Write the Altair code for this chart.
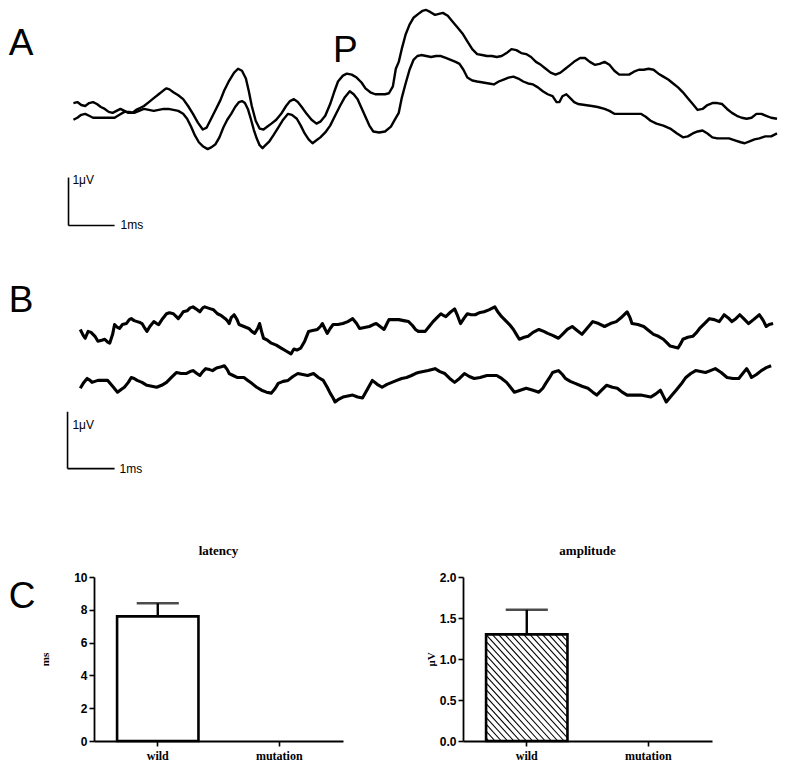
import altair as alt
import pandas as pd

A_UPPER_X = [68,72,76,80,84,88,92,96,100,104,108,112,116,120,124,128,132,136,140,145,150,155,160,163,166,170,175,180,185,190,195,200,204,208,213,218,222,227,232,236,240,244,247,250,254,258,262,266,270,275,280,285,289,293,297,301,306,311,316,320,325,330,334,338,343,347,352,357,362,366,371,376,381,386,390,394,397,400,403,407,411,415,420,424,428,432,437,441,445,450,455,460,465,470,475,480,485,490,495,500,505,510,515,520,525,530,535,540,545,550,555,560,565,570,575,580,585,590,595,600,605,610,615,620,625,630,635,640,645,650,655,660,665,670,675,680,685,690,695,700,705,710,715,720,725,730,735,740,745,750,755,760,765,770,775,780,786]
A_UPPER_Y = [97,96,99,100,97,96,98,101,103,106,107,105,103,105,107,107,104,102,100,96,92,88,84,82,83,86,89,93,100,108,117,124,122,114,104,94,84,74,66,62,64,72,85,100,115,123,124,121,118,114,108,100,95,93,96,101,108,114,118,116,110,98,86,75,69,67,68,71,76,82,86,88,88,88,87,80,62,55,42,27,17,10,6,3,2,4,7,6,5,8,14,20,26,34,42,47,48,49,49,50,49,46,42,43,46,47,50,55,58,62,66,68,66,62,58,54,51,51,55,58,57,55,58,64,68,68,68,65,63,63,62,63,67,70,73,77,81,86,92,98,104,103,99,97,97,98,103,107,110,112,113,112,108,108,110,112,113]

A_LOWER_X = [68,72,76,80,84,88,92,96,100,105,110,115,120,125,130,135,140,145,150,155,160,165,170,175,180,184,188,192,196,200,205,209,213,217,221,225,229,233,237,240,243,246,249,252,255,258,261,264,268,272,277,282,287,291,296,300,304,308,312,316,320,325,330,335,340,345,350,354,358,362,366,370,374,380,386,392,396,400,403,407,411,415,419,423,428,433,438,443,448,453,458,462,466,470,475,480,486,492,497,502,507,512,517,522,527,532,537,542,547,552,557,561,564,567,571,575,579,583,590,597,603,610,615,620,627,633,640,647,652,657,663,670,677,684,690,695,700,705,710,715,720,725,730,737,743,749,753,758,763,768,774,780,786]
A_LOWER_Y = [114,112,109,108,110,112,112,112,112,112,112,109,106,106,107,105,103,104,105,104,103,103,104,105,108,113,121,130,137,141,144,142,139,132,122,114,108,101,96,95,97,103,113,124,133,140,143,140,136,130,122,114,108,109,113,120,128,134,138,135,132,127,120,110,100,91,85,88,93,102,111,120,126,127,126,121,114,107,92,77,63,53,49,48,49,50,49,49,51,53,55,57,63,71,74,75,76,77,78,75,73,71,70,72,75,77,78,81,85,88,90,96,96,90,88,92,96,98,99,100,101,103,105,108,108,108,108,108,111,115,118,120,123,128,132,131,128,126,125,128,132,133,133,133,135,137,138,136,134,133,131,131,128]

B_UPPER_X = [75,78,80,83,86,90,93,97,100,103,105,108,110,113,115,118,122,125,127,130,133,136,138,141,143,146,150,153,155,159,163,166,170,173,175,178,180,184,187,190,193,197,200,202,205,208,211,215,219,223,225,227,229,232,235,237,242,247,250,253,256,258,260,262,266,270,275,280,285,290,293,296,300,304,308,312,317,320,322,325,327,330,333,338,343,348,353,357,360,365,370,374,377,381,385,388,390,395,400,405,410,414,417,420,424,427,431,435,439,443,446,448,452,457,460,463,467,470,474,478,482,487,492,498,501,505,509,513,517,520,523,528,532,537,543,548,552,557,563,568,572,577,582,587,592,598,604,610,616,622,628,633,636,638,644,650,655,660,665,670,674,677,681,685,688,690,695,700,704,707,712,717,722,727,730,732,736,740,744,748,752,757,762,768,772,775,778,782]
B_UPPER_Y = [328,334,337,330,331,335,340,339,338,341,342,333,323,326,327,323,322,318,317,319,320,321,322,327,330,325,320,322,323,317,312,311,312,315,317,313,310,309,306,305,307,310,306,305,306,307,308,312,314,317,319,322,316,313,318,323,325,327,330,332,327,322,330,337,339,342,344,347,350,353,348,349,347,340,330,329,328,325,322,328,332,327,323,323,322,320,317,322,327,326,325,323,322,325,328,322,318,318,318,319,320,324,328,330,330,330,325,320,316,312,314,315,311,307,314,322,316,312,313,313,311,310,308,305,310,315,319,323,328,333,338,336,335,331,328,330,332,334,337,332,328,325,329,333,327,320,322,325,322,320,315,310,316,322,323,325,329,333,335,338,342,345,346,347,342,338,336,335,331,327,322,317,318,320,316,313,316,320,317,313,317,322,318,313,319,325,323,322]

B_LOWER_X = [75,78,82,85,87,90,93,98,103,108,113,117,120,124,127,130,133,138,143,148,153,158,163,168,173,178,183,187,190,194,197,200,203,207,210,213,215,219,222,225,227,231,235,239,242,246,250,255,260,265,270,274,277,282,287,292,297,302,307,310,313,318,323,327,330,333,335,339,343,348,353,358,363,368,373,378,383,388,393,398,403,408,413,417,420,425,430,437,442,447,452,457,462,467,472,477,483,490,495,500,505,510,514,518,524,530,537,543,547,550,554,557,560,563,567,570,575,580,587,593,598,602,607,612,618,623,628,633,640,647,652,657,662,667,670,673,678,683,688,693,698,703,708,713,718,723,729,735,741,747,751,755,758,760,765,770,775,780]
B_LOWER_Y = [388,383,378,380,382,381,380,380,380,386,392,389,387,382,377,378,380,382,385,386,387,385,382,377,372,373,373,371,370,373,375,371,368,369,370,368,367,366,365,369,373,375,377,377,377,380,383,387,390,392,393,388,383,381,380,376,373,374,375,374,373,377,380,387,393,398,402,399,397,396,395,397,398,389,380,384,387,384,382,380,378,377,375,373,372,371,370,368,371,373,378,382,378,373,376,378,377,375,375,375,378,382,387,392,390,388,390,392,388,383,377,372,371,370,374,378,381,383,386,388,392,395,390,385,387,388,392,395,395,395,396,397,394,390,396,402,396,390,384,377,373,370,371,372,370,368,372,377,378,378,373,368,373,377,374,370,367,365]

# scale bars (same figure units): origin corner, 1 ms horizontal, 1 µV vertical
SCALEBAR_X0 = [63, 62]
SCALEBAR_Y0 = [222, 470]
SCALEBAR_MS = [47, 48]
SCALEBAR_UV = [49, 58]

# panel letters / labels
LABEL_TEXT = ["A", "P", "B"]
LABEL_X = [2, 333, 2]
LABEL_Y = [48, 55, 310]
SB_TEXT = ["1μV", "1ms", "1μV", "1ms"]
SB_X = [67, 116, 67, 115]
SB_Y = [180, 226, 430, 474]

# ---------------- bar chart data ----------------
GROUPS = ["wild", "mutation"]
LATENCY_MEAN = [7.6, None]
LATENCY_SEM = [0.8, None]
AMPLITUDE_MEAN = [1.3, None]
AMPLITUDE_SEM = [0.3, None]

S = 771 / 787.0
AXIS_LEFT = 89                      # left edge of the latency plot in figure units
TOP_W, TOP_H = round((787 - AXIS_LEFT) * S), round(500 * S)
BAR_W, BAR_H = round(254 * S), round(167 * S)
PAD_IN, PAD_OUT = 0.33, 0.19

# ---------------- top panels A and B ----------------
def trace(xs, ys, name):
    return pd.DataFrame({"x": xs, "y": ys, "trace": name, "i": list(range(len(xs)))})

tracesA = pd.concat([trace(A_UPPER_X, A_UPPER_Y, "a1"), trace(A_LOWER_X, A_LOWER_Y, "a2")])
tracesB = pd.concat([trace(B_UPPER_X, B_UPPER_Y, "b1"), trace(B_LOWER_X, B_LOWER_Y, "b2")])

xs = alt.Scale(domain=[AXIS_LEFT, 787], nice=False, zero=False)
ys = alt.Scale(domain=[0, 500], reverse=True, nice=False, zero=False)
X = lambda f: alt.X(f, scale=xs, axis=None)
Y = lambda f: alt.Y(f, scale=ys, axis=None)

def line_layer(df, w):
    return alt.Chart(df).mark_line(color="black", strokeWidth=w, strokeJoin="round").encode(
        x=X("x:Q"), y=Y("y:Q"), detail="trace:N", order="i:Q")

sb = pd.DataFrame({"x0": SCALEBAR_X0, "y0": SCALEBAR_Y0, "ms": SCALEBAR_MS, "uv": SCALEBAR_UV})
sb_base = alt.Chart(sb).transform_calculate(x1="datum.x0 + datum.ms", y1="datum.y0 - datum.uv")
sb_h = sb_base.mark_rule(color="black", strokeWidth=1.6).encode(x=X("x0:Q"), x2="x1:Q", y=Y("y0:Q"))
sb_v = sb_base.mark_rule(color="black", strokeWidth=1.6).encode(x=X("x0:Q"), y=Y("y0:Q"), y2="y1:Q")

letters = alt.Chart(pd.DataFrame({"t": LABEL_TEXT, "x": LABEL_X, "y": LABEL_Y})).mark_text(
    align="left", baseline="alphabetic", fontSize=37, font="Liberation Sans", color="black"
).encode(x=X("x:Q"), y=Y("y:Q"), text="t:N")

sbtext = alt.Chart(pd.DataFrame({"t": SB_TEXT, "x": SB_X, "y": SB_Y})).mark_text(
    align="left", baseline="alphabetic", fontSize=12, font="Liberation Sans", color="black"
).encode(x=X("x:Q"), y=Y("y:Q"), text="t:N")

top = alt.layer(line_layer(tracesA, 2.4), line_layer(tracesB, 3.1), sb_h, sb_v, letters, sbtext).properties(
    width=TOP_W, height=TOP_H)

# ---------------- bottom panel C ----------------
def band_layout(W, n, pi, po):
    step = W / (n - pi + 2 * po)
    start = (W - step * (n - pi)) / 2
    return start, step * (1 - pi)

def xaxis():
    return alt.Axis(labelFont="Liberation Serif", labelFontWeight="bold", labelFontSize=12,
                    labelAngle=0, labelPadding=4, tickSize=5, tickWidth=1.6, domainWidth=1.8,
                    domainColor="black", tickColor="black", labelColor="black", title=None)

def yaxis(values, fmt, tpad, title):
    return alt.Axis(values=values, format=fmt, labelFont="Liberation Sans",
                    labelFontWeight="bold", labelOverlap=False,
                    labelFontSize=12, labelPadding=2, tickSize=5, tickWidth=1.6, domainWidth=1.8,
                    domainColor="black", tickColor="black", labelColor="black", grid=False,
                    title=title, titleFont="Liberation Serif", titleFontWeight="bold", titleFontSize=11,
                    titleColor="black", titlePadding=tpad)

def bar_chart(means, sems, ymax, yvals, fmt, tpad, ytitle, title, hatch, extra=None):
    df = pd.DataFrame({"group": GROUPS, "mean": means, "sem": sems})
    xsc = alt.Scale(domain=GROUPS, paddingInner=PAD_IN, paddingOuter=PAD_OUT)
    ysc = alt.Scale(domain=[0, ymax], nice=False, zero=True)
    YA = yaxis(yvals, fmt, tpad, ytitle)
    base = alt.Chart(df)
    XMAIN = alt.X("group:N", scale=xsc, axis=xaxis(), sort=GROUPS, title=None)
    # with an independent x (hatched chart) the secondary layers must not draw their own x axes
    XSEC = alt.X("group:N", scale=xsc, axis=None, sort=GROUPS) if hatch else XMAIN
    fill_bar = base.transform_filter("isValid(datum.mean)").mark_bar(
        fill="white", stroke=None).encode(x=XMAIN, y=alt.Y("mean:Q", scale=ysc, axis=YA))
    outline = base.transform_filter("isValid(datum.mean)").mark_bar(
        fill="white", fillOpacity=0, stroke="black", strokeWidth=2.6).encode(
        x=XSEC, y=alt.Y("mean:Q", scale=ysc, axis=YA))
    err = base.transform_filter("isValid(datum.sem)").transform_calculate(
        upper="datum.mean + datum.sem")
    err_rule = err.mark_rule(color="black", strokeWidth=2.4).encode(
        x=XSEC, y=alt.Y("mean:Q", scale=ysc, axis=YA), y2="upper:Q")
    err_cap = err.mark_tick(color="black", size=43 * S, thickness=2.4).encode(
        x=XSEC, y=alt.Y("upper:Q", scale=ysc, axis=YA))
    layers = [fill_bar]
    if hatch:
        start, bw = band_layout(BAR_W, len(GROUPS), PAD_IN, PAD_OUT)
        rows = []
        for gi, m in enumerate(means):
            if m is None:
                continue
            xL = start + gi * (BAR_W - 2 * start - bw)
            xR = xL + bw
            yT = BAR_H * (1 - m / ymax)
            yB = BAR_H
            k, d = 1.1, 6.4 * S * 1.1
            c = yT - k * xR
            while c < yB - k * xL:
                xa = max(xL, (yT - c) / k)
                xb = min(xR, (yB - c) / k)
                if xb > xa:
                    rows.append({"x": xa / BAR_W, "x2": xb / BAR_W,
                                 "y": (BAR_H - (k * xa + c)) / BAR_H * ymax,
                                 "y2": (BAR_H - (k * xb + c)) / BAR_H * ymax})
                c += d
        hq = alt.Scale(domain=[0, 1], nice=False, zero=False)
        hl = alt.Chart(pd.DataFrame(rows)).mark_rule(color="black", strokeWidth=1.1).encode(
            x=alt.X("x:Q", scale=hq, axis=None), x2="x2:Q",
            y=alt.Y("y:Q", scale=ysc, axis=YA), y2="y2:Q")
        layers.append(hl)
    layers += [outline, err_rule, err_cap]
    if extra is not None:
        layers.append(extra)
    ch = alt.layer(*layers).properties(
        width=BAR_W, height=BAR_H,
        title=alt.TitleParams(title, font="Liberation Serif", fontSize=13, fontWeight="bold",
                              color="black", offset=13))
    if hatch:
        ch = ch.resolve_scale(x="independent")
    return ch

letterC = alt.Chart(pd.DataFrame({"t": ["C"]})).mark_text(
    align="left", baseline="alphabetic", fontSize=37, font="Liberation Sans", color="black"
).encode(text="t:N", x=alt.value((2 - AXIS_LEFT) * S), y=alt.value((616 - 584) * S))

lat = bar_chart(LATENCY_MEAN, LATENCY_SEM, 10, [0, 2, 4, 6, 8, 10], "d", 23, "ms", "latency", False, letterC)
amp = bar_chart(AMPLITUDE_MEAN, AMPLITUDE_SEM, 2, [0, 0.5, 1, 1.5, 2], ".1f", 3, "μV", "amplitude", True)

bottom = alt.hconcat(lat, amp, spacing=82)

chart = alt.vconcat(top, bottom, spacing=47).properties(padding=0).configure_view(stroke=None)

chart.save("out.html", embed_options={"renderer": "svg", "actions": False})
